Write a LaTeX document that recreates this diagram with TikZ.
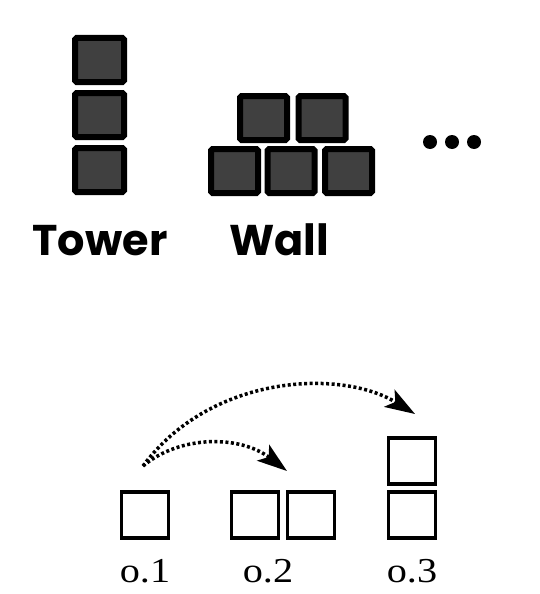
\documentclass[tikz,border=0pt]{standalone}
\usepackage{fontspec}
\newfontfamily\labelfont{Poppins}[UprightFont=* Bold]
\newfontfamily\capfont{Liberation Serif}
\usetikzlibrary{arrows.meta}
\begin{document}
\begin{tikzpicture}[x=1pt,y=-1pt,
  block/.style={draw=black,fill=black!75,line width=6pt,rounded corners=1.5pt,
    minimum width=49pt,minimum height=44pt,inner sep=0pt,outer sep=0pt},
  wblock/.style={block,minimum width=47pt},
  cube/.style={draw=black,line width=3.5pt,fill=white,inner sep=0pt,outer sep=0pt,
    minimum width=47pt,minimum height=46pt},
  shapename/.style={font=\labelfont\fontsize{43}{43}\selectfont,anchor=base,inner sep=0pt},
  opname/.style={font=\capfont\fontsize{35}{35}\selectfont,anchor=base,inner sep=0pt},
  hop/.style={dash pattern=on 3pt off 2.5pt,line width=3.5pt,
    -{Stealth[length=30pt,width=20pt,inset=7pt]}},
  edot/.style={circle,fill=black,minimum size=14pt,inner sep=0pt}]
\useasboundingbox (0,0) rectangle (539,594);
% tower
\node[block] (t1) at (99.5,60) {};
\node[block] (t2) at (99.5,115) {};
\node[block] (t3) at (99.5,170) {};
% wall
\node[wblock] (w4) at (263.5,118) {};
\node[wblock] (w5) at (322,118) {};
\node[wblock] (w1) at (234.5,171) {};
\node[wblock] (w2) at (291,171) {};
\node[wblock] (w3) at (348.5,171) {};
% ellipsis
\node[edot] (d1) at (430,142) {};
\node[edot] (d2) at (452,142) {};
\node[edot] (d3) at (474,142) {};
\node[shapename] (tower) at (100,255) {Tower};
\node[shapename] (wall) at (279,255) {Wall};
% operations
\node[cube] (a1) at (145,515) {};
\node[cube] (b1) at (255,515) {};
\node[cube] (b2) at (311,515) {};
\node[cube] (c1) at (412,515) {};
\node[cube] (c2) at (412,461) {};
\node[opname] (o1) at (145,582) {\scalebox{1.15}[1]{o.1}};
\node[opname] (o2) at (268,582) {\scalebox{1.15}[1]{o.2}};
\node[opname] (o3) at (412,582) {\scalebox{1.15}[1]{o.3}};
\coordinate (src) at (143,466);
\coordinate (dst2) at (287,471);
\coordinate (dst3) at (415,414);
\draw[hop] (src) .. controls (180,435) and (240,435) .. (dst2);
\draw[hop] (src) .. controls (210,375) and (340,368) .. (dst3);
\end{tikzpicture}
\end{document}
